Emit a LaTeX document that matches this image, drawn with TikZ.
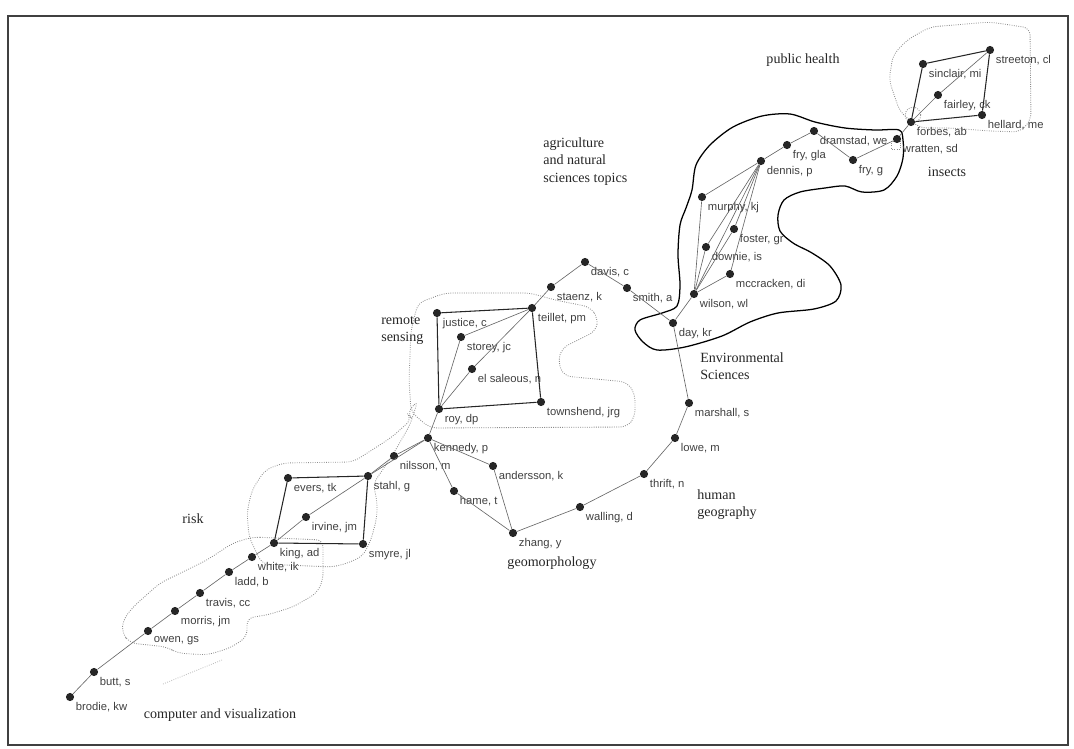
\documentclass[tikz,border=0pt]{standalone}
\usepackage{fontspec}
\setmainfont{Liberation Serif}
\setsansfont{Liberation Sans}

\begin{document}
\begin{tikzpicture}[
	x=0.025cm, y=-0.025cm,
	dot/.style={
		circle,
		fill=black!85,
		inner sep=0pt,
		minimum size=5.8pt
	},
	lbl/.style={
		anchor=west,
		inner sep=0pt,
		font=\sffamily\fontsize{8}{9}\selectfont,
		text=black!75,
		xshift=4pt,
		yshift=-4.1pt
	},
	topic/.style={
		font=\fontsize{10}{12.5}\selectfont,
		align=left,
		inner sep=0pt,
		text=black!85
	},
	link/.style={draw=black!60, line width=0.45pt},
	strong/.style={draw=black!85, line width=0.75pt},
	region/.style={draw=black!45, densely dotted, line width=0.6pt, rounded corners=5pt},
	envsci/.style={draw=black, line width=0.9pt},
	frame/.style={draw=black!75, line width=0.9pt}
]
\useasboundingbox (0,0) rectangle (1074,749);
\draw[frame] (8,16) rectangle (1068,745);

% cluster outlines
\draw[region] (893,55) -- (907,40) -- (930,27) -- (990,22) -- (1030,28) -- (1031,120)
	-- (1020,132) -- (990,131) -- (950,128) -- (920,128) -- (900,112) -- (889,80) -- cycle;
\draw[region] (418,303) -- (445,293) -- (530,293) -- (555,300) -- (590,307) -- (598,318)
	-- (596,331) -- (562,348) -- (558,362) -- (564,376) -- (627,382) -- (635,394)
	-- (635,417) -- (627,427) -- (430,428) -- (411,412) -- (409,380) -- (411,330) -- cycle;
\draw[region] (418,400) -- (407,413) -- (412,419) -- (392,437) -- (372,450) -- (353,462)
	-- (283,463) -- (265,470) -- (252,490) -- (247,512) -- (249,537) -- (262,564)
	-- (333,567) -- (348,563) -- (363,556) -- (371,540) -- (377,517) -- (377,500)
	-- (373,484) -- (392,456) -- (410,425) -- cycle;
\draw[region] (253,537) -- (323,540) -- (323,580) -- (317,593) -- (293,607) -- (267,615)
	-- (247,618) -- (247,637) -- (230,648) -- (207,655) -- (177,653) -- (167,647)
	-- (130,643) -- (122,633) -- (123,620) -- (133,607) -- (160,583) -- (187,570)
	-- (207,560) -- (233,543) -- cycle;
\draw[region, draw=black!25] (163,684) -- (222,660);
\draw[region, rounded corners=0pt] (913,115) circle (5.5pt);
\draw[region, rounded corners=0pt] (891,141) rectangle (900,149);
\draw[envsci] plot[smooth cycle, tension=0.5] coordinates {
	(692,190) (696,165) (710,145) (733,127) (762,116) (790,114) (815,122) (845,128)
	(875,130) (899,130) (903,140) (903,158) (897,176) (884,190) (862,192) (845,186)
	(825,188) (800,192) (784,200) (778,215) (780,231) (793,243) (812,253) (830,266)
	(841,285) (836,301) (814,309) (778,313) (750,322) (722,336) (685,347) (657,350)
	(643,342) (635,330) (640,320) (662,313) (677,306) (680,285) (678,255) (680,225)
	(686,208)};

% topic names
\node[topic] (t_health) at (803,60) {public health};
\node[topic, anchor=north west] (t_agri) at (543,137) {agriculture\\and natural\\sciences topics};
\node[topic, anchor=north west] (t_remote) at (381,316) {remote\\sensing};
\node[topic, anchor=north west] (t_env) at (700,352) {Environmental\\Sciences};
\node[topic] (t_insects) at (947,172) {insects};
\node[topic, anchor=north west] (t_human) at (697,489) {human\\geography};
\node[topic] (t_geo) at (552,563) {geomorphology};
\node[topic] (t_risk) at (193,519) {risk};
\node[topic] (t_comp) at (220,715) {computer and visualization};

% authors
\node[dot, label={[lbl]below:streeton, cl}] (streeton) at (990,50) {};
\node[dot, label={[lbl]below:sinclair, mi}] (sinclair) at (923,64) {};
\node[dot, label={[lbl]below:fairley, ck}] (fairley) at (938,95) {};
\node[dot, label={[lbl]below:hellard, me}] (hellard) at (982,115) {};
\node[dot, label={[lbl]below:forbes, ab}] (forbes) at (911,122) {};
\node[dot, label={[lbl]below:wratten, sd}] (wratten) at (897,139) {};
\node[dot, label={[lbl]below:dramstad, we}] (dramstad) at (814,131) {};
\node[dot, label={[lbl]below:fry, gla}] (frygla) at (787,145) {};
\node[dot, label={[lbl]below:fry, g}] (fryg) at (853,160) {};
\node[dot, label={[lbl]below:dennis, p}] (dennis) at (761,161) {};
\node[dot, label={[lbl]below:murphy, kj}] (murphy) at (702,197) {};
\node[dot, label={[lbl]below:foster, gr}] (foster) at (734,229) {};
\node[dot, label={[lbl]below:downie, is}] (downie) at (706,247) {};
\node[dot, label={[lbl]below:mccracken, di}] (mccracken) at (730,274) {};
\node[dot, label={[lbl]below:wilson, wl}] (wilson) at (694,294) {};
\node[dot, label={[lbl]below:day, kr}] (day) at (673,323) {};
\node[dot, label={[lbl]below:davis, c}] (davis) at (585,262) {};
\node[dot, label={[lbl]below:smith, a}] (smith) at (627,288) {};
\node[dot, label={[lbl]below:staenz, k}] (staenz) at (551,287) {};
\node[dot, label={[lbl]below:teillet, pm}] (teillet) at (532,308) {};
\node[dot, label={[lbl]below:justice, c}] (justice) at (437,313) {};
\node[dot, label={[lbl]below:storey, jc}] (storey) at (461,337) {};
\node[dot, label={[lbl]below:el saleous, n}] (elsaleous) at (472,369) {};
\node[dot, label={[lbl]below:townshend, jrg}] (townshend) at (541,402) {};
\node[dot, label={[lbl]below:roy, dp}] (roy) at (439,409) {};
\node[dot, label={[lbl]below:kennedy, p}] (kennedy) at (428,438) {};
\node[dot, label={[lbl]below:nilsson, m}] (nilsson) at (394,456) {};
\node[dot, label={[lbl]below:stahl, g}] (stahl) at (368,476) {};
\node[dot, label={[lbl]below:evers, tk}] (evers) at (288,478) {};
\node[dot, label={[lbl]below:irvine, jm}] (irvine) at (306,517) {};
\node[dot, label={[lbl]below:king, ad}] (king) at (274,543) {};
\node[dot, label={[lbl]below:smyre, jl}] (smyre) at (363,544) {};
\node[dot, label={[lbl]below:hame, t}] (hame) at (454,491) {};
\node[dot, label={[lbl]below:andersson, k}] (andersson) at (493,466) {};
\node[dot, label={[lbl]below:zhang, y}] (zhang) at (513,533) {};
\node[dot, label={[lbl]below:walling, d}] (walling) at (580,507) {};
\node[dot, label={[lbl]below:thrift, n}] (thrift) at (644,474) {};
\node[dot, label={[lbl]below:lowe, m}] (lowe) at (675,438) {};
\node[dot, label={[lbl]below:marshall, s}] (marshall) at (689,403) {};
\node[dot, label={[lbl]below:white, ik}] (white) at (252,557) {};
\node[dot, label={[lbl]below:ladd, b}] (ladd) at (229,572) {};
\node[dot, label={[lbl]below:travis, cc}] (travis) at (200,593) {};
\node[dot, label={[lbl]below:morris, jm}] (morris) at (175,611) {};
\node[dot, label={[lbl]below:owen, gs}] (owen) at (148,631) {};
\node[dot, label={[lbl]below:butt, s}] (butt) at (94,672) {};
\node[dot, label={[lbl]below:brodie, kw}] (brodie) at (70,697) {};

% co-author links
\draw[strong] (forbes) -- (sinclair) -- (streeton) -- (hellard) -- (forbes);
\draw[link] (streeton) -- (fairley) -- (forbes) -- (wratten) -- (fryg) -- (dramstad) -- (frygla) -- (dennis);
\draw[link] (dennis) -- (murphy) -- (wilson);
\draw[link] (dennis) -- (downie) -- (wilson);
\draw[link] (dennis) -- (foster) -- (wilson);
\draw[link] (dennis) -- (mccracken) -- (wilson);
\draw[link] (dennis) -- (wilson) -- (day);
\draw[link] (day) -- (smith) -- (davis) -- (staenz) -- (teillet);
\draw[strong] (roy) -- (justice) -- (teillet) -- (townshend) -- (roy);
\draw[link] (teillet) -- (storey) -- (roy);
\draw[link] (teillet) -- (elsaleous) -- (roy);
\draw[link] (roy) -- (kennedy) -- (nilsson) -- (stahl);
\draw[link] (kennedy) -- (stahl);
\draw[link] (kennedy) -- (hame) -- (zhang);
\draw[link] (kennedy) -- (andersson) -- (zhang);
\draw[link] (zhang) -- (walling) -- (thrift) -- (lowe) -- (marshall) -- (day);
\draw[strong] (king) -- (evers) -- (stahl) -- (smyre) -- (king);
\draw[link] (stahl) -- (irvine) -- (king);
\draw[link] (king) -- (white) -- (ladd) -- (travis) -- (morris) -- (owen) -- (butt) -- (brodie);

\end{tikzpicture}
\end{document}
